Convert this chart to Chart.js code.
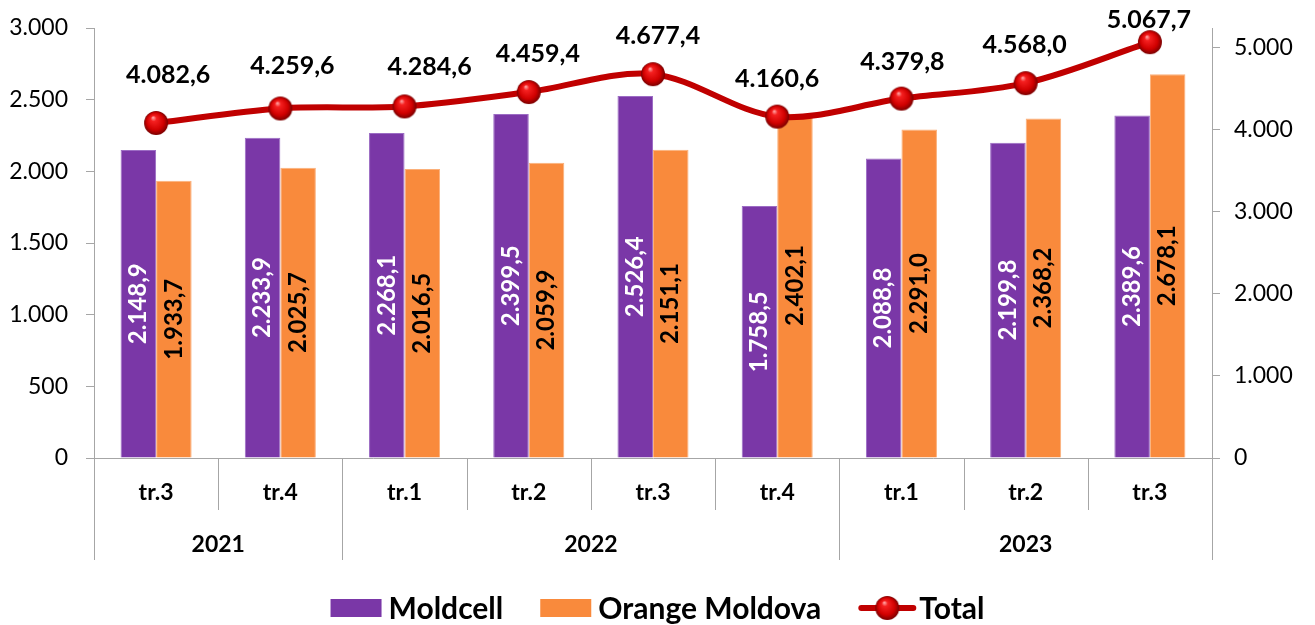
<!DOCTYPE html>
<html><head><meta charset="utf-8">
<script src="https://cdn.jsdelivr.net/npm/chart.js@4/dist/chart.umd.min.js"></script>
<style>html,body{margin:0;padding:0;background:#fff}#wrap{width:1315px;height:625px;position:relative}</style>
</head><body><div id="wrap"><canvas id="c" width="1315" height="625"></canvas></div>
<script>
// ---- data ----
const quarters = ['tr.3','tr.4','tr.1','tr.2','tr.3','tr.4','tr.1','tr.2','tr.3'];
const years = ['2021','2022','2023'];
const yearSpans = [2, 4, 3];
const moldcell = [2148.9, 2233.9, 2268.1, 2399.5, 2526.4, 1758.5, 2088.8, 2199.8, 2389.6];
const orange   = [1933.7, 2025.7, 2016.5, 2059.9, 2151.1, 2402.1, 2291.0, 2368.2, 2678.1];
const total    = [4082.6, 4259.6, 4284.6, 4459.4, 4677.4, 4160.6, 4379.8, 4568.0, 5067.7];
const seriesNames = ['Moldcell', 'Orange Moldova', 'Total'];
const leftTicks  = [0, 500, 1000, 1500, 2000, 2500, 3000];
const rightTicks = [0, 1000, 2000, 3000, 4000, 5000];

// ---- style ----
const FONT = "Lato, 'DejaVu Sans', sans-serif";
const PURPLE = '#7A37A7';
const ORANGE = '#F98A3C';
const RED = '#C00000';
const GRAY = '#A6A6A6';
const totalLabelNudge = [[12,-48],[12,-43],[25,-39],[9,-38],[5,-38],[0,-38],[1,-37],[-1,-38],[-1,-22]];

function fmt(v, dec){
  const s = Math.abs(v).toFixed(dec);
  let [i, d] = s.split('.');
  i = i.replace(/\B(?=(\d{3})+(?!\d))/g, '.');
  return (v < 0 ? '-' : '') + i + (d ? ',' + d : '');
}

function sphere(r){
  const c = document.createElement('canvas');
  const s = 2*r + 2;
  c.width = c.height = s;
  const g = c.getContext('2d');
  const cx = s/2, cy = s/2;
  const grad = g.createRadialGradient(cx - r*0.25, cy - r*0.45, r*0.05, cx, cy, r);
  grad.addColorStop(0, '#ff9a9a');
  grad.addColorStop(0.2, '#f52020');
  grad.addColorStop(0.7, '#d00000');
  grad.addColorStop(1, '#7a0000');
  g.fillStyle = grad;
  g.beginPath(); g.arc(cx, cy, r, 0, Math.PI*2); g.fill();
  return c;
}
const marker = sphere(12);

const labelsPlugin = {
  id: 'labels',
  afterDatasetsDraw(chart){
    const ctx = chart.ctx;
    ctx.save();
    [0, 1].forEach(di => {
      const meta = chart.getDatasetMeta(di);
      const vals = chart.data.datasets[di].data;
      meta.data.forEach((bar, i) => {
        const cy = (bar.y + bar.base) / 2;
        ctx.save();
        ctx.translate(bar.x, cy);
        ctx.rotate(-Math.PI/2);
        ctx.font = 'bold 24px ' + FONT;
        ctx.fillStyle = di === 0 ? '#ffffff' : '#000000';
        ctx.textAlign = 'center';
        ctx.textBaseline = 'middle';
        ctx.fillText(fmt(vals[i], 1), 0, 0);
        ctx.restore();
      });
    });
    const meta = chart.getDatasetMeta(2);
    const vals = chart.data.datasets[2].data;
    ctx.font = 'bold 25px ' + FONT;
    ctx.fillStyle = '#000';
    ctx.textAlign = 'center';
    ctx.textBaseline = 'middle';
    meta.data.forEach((pt, i) => {
      const [dx, dy] = totalLabelNudge[i];
      ctx.fillText(fmt(vals[i], 1), pt.x + dx, pt.y + dy);
    });
    ctx.restore();
  },
  afterDraw(chart){
    const ctx = chart.ctx;
    const area = chart.chartArea;
    const n = quarters.length;
    const step = (area.right - area.left) / n;
    const y0 = area.bottom;
    ctx.save();
    ctx.strokeStyle = GRAY;
    ctx.lineWidth = 1;
    const yb = [0];
    yearSpans.reduce((a, s) => { yb.push(a + s); return a + s; }, 0);
    for (let k = 0; k <= n; k++) {
      const x = Math.round(area.left + k*step) + 0.5;
      const isYear = yb.includes(k);
      ctx.beginPath();
      ctx.moveTo(x, y0);
      ctx.lineTo(x, isYear ? y0 + 102 : y0 + 52);
      ctx.stroke();
    }
    ctx.font = 'bold 23px ' + FONT;
    ctx.fillStyle = '#000';
    ctx.textAlign = 'center';
    ctx.textBaseline = 'middle';
    for (let j = 0; j < years.length; j++) {
      const xa = area.left + yb[j]*step, xb = area.left + yb[j+1]*step;
      ctx.fillText(years[j], (xa + xb)/2, y0 + 87);
    }
    // legend
    const ly = 608;
    ctx.font = 'bold 30px ' + FONT;
    ctx.textAlign = 'left';
    const items = [
      {type:'box', color: PURPLE, text: seriesNames[0]},
      {type:'box', color: ORANGE, text: seriesNames[1]},
      {type:'line', color: RED, text: seriesNames[2]}
    ];
    const boxW = 51, lineW = 58, gapIn = 7, gapOut = 37;
    let totalW = 0;
    items.forEach((it, i) => {
      it.w = (it.type === 'box' ? boxW + gapIn : lineW + 3) + ctx.measureText(it.text).width;
      totalW += it.w + (i ? gapOut : 0);
    });
    let x = chart.width/2 - totalW/2;
    items.forEach(it => {
      if (it.type === 'box') {
        ctx.fillStyle = it.color;
        ctx.fillRect(x, ly - 9, boxW, 18);
        x += boxW + gapIn;
      } else {
        ctx.strokeStyle = it.color;
        ctx.lineWidth = 6;
        ctx.lineCap = 'round';
        ctx.beginPath(); ctx.moveTo(x + 3, ly); ctx.lineTo(x + lineW - 3, ly); ctx.stroke();
        ctx.drawImage(marker, x + lineW/2 - marker.width/2, ly - marker.height/2);
        x += lineW + 3;
      }
      ctx.fillStyle = '#000';
      ctx.textBaseline = 'middle';
      ctx.fillText(it.text, x, ly + 1);
      x += ctx.measureText(it.text).width + gapOut;
    });
    ctx.restore();
  }
};

new Chart(document.getElementById('c'), {
  data: {
    labels: quarters,
    datasets: [
      {type:'bar', label: seriesNames[0], data: moldcell, backgroundColor: PURPLE, borderColor: '#9c6cc4', borderWidth: {top:1,left:1,right:1,bottom:0}, yAxisID:'y', order: 2, categoryPercentage: 0.572, barPercentage: 1},
      {type:'bar', label: seriesNames[1], data: orange, backgroundColor: ORANGE, borderColor: '#fbb07a', borderWidth: {top:1,left:1,right:1,bottom:0}, yAxisID:'y', order: 2, categoryPercentage: 0.572, barPercentage: 1},
      {type:'line', label: seriesNames[2], data: total, borderColor: RED, borderWidth: 6, tension: 0.33, yAxisID:'y1', order: 0,
       pointStyle: marker, pointRadius: 12, pointHoverRadius: 12, fill: false}
    ]
  },
  options: {
    responsive: false,
    animation: false,
    events: [],
    layout: {padding: {top: 28, left: 0, right: 0, bottom: 0}},
    plugins: {legend: {display: false}, tooltip: {enabled: false}},
    scales: {
      x: {
        offset: true,
        grid: {display: false, drawTicks: false},
        border: {display: true, color: GRAY},
        ticks: {font: {family: FONT, size: 23, weight: 'bold'}, color: '#000', padding: 21, maxRotation: 0, autoSkip: false},
        afterFit: s => { s.height = 167; }
      },
      y: {
        position: 'left', min: 0, max: 3000,
        ticks: {font: {family: FONT, size: 23, lineHeight: 0.8}, color: '#000', padding: 18, autoSkip: false, callback: v => fmt(v, 0)},
        afterBuildTicks: s => { s.ticks = leftTicks.map(v => ({value: v})); },
        grid: {drawOnChartArea: false, drawTicks: true, tickLength: 8, color: GRAY},
        border: {display: true, color: GRAY},
        afterFit: s => { s.width = 94; }
      },
      y1: {
        position: 'right', min: 0, max: 5240,
        ticks: {font: {family: FONT, size: 23, lineHeight: 0.8}, color: '#000', padding: 14, autoSkip: false, callback: v => fmt(v, 0)},
        afterBuildTicks: s => { s.ticks = rightTicks.map(v => ({value: v})); },
        grid: {drawOnChartArea: false, drawTicks: true, tickLength: 8, color: GRAY},
        border: {display: true, color: GRAY},
        afterFit: s => { s.width = 103; }
      }
    }
  },
  plugins: [labelsPlugin]
});
</script>
</body></html>
